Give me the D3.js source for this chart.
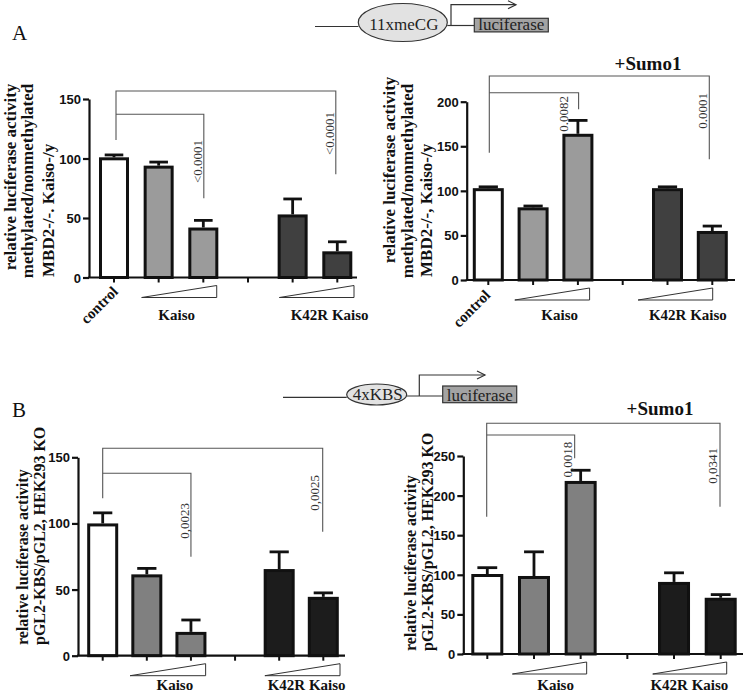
<!DOCTYPE html>
<html><head><meta charset="utf-8">
<script src="https://cdn.jsdelivr.net/npm/d3@7"></script>
<style>body{margin:0;background:#fff} svg{display:block}</style>
</head><body>
<svg id="chart" width="745" height="691"></svg>
<script>
// ---------- data ----------
const categories = ["control","Kaiso low","Kaiso high","gap","K42R Kaiso low","K42R Kaiso high"];
const groupLabels = ["Kaiso","K42R Kaiso"];
const controlLabel = "control";
const sumoLabel = "+Sumo1";

// Panel A, left (11xmeCG)
const aLeftValues = [101, 94, 42, null, 53, 22];
const aLeftErrors = [2, 3, 6, null, 13, 8];
const aLeftTicks = [0, 50, 100, 150];
const aLeftP = ["<0.0001", "<0.0001"];
const aLeftTitle = ["relative luciferase activity", "methylated/nonmethylated", "MBD2-/-. Kaiso-/y"];

// Panel A, right (+Sumo1)
const aRightValues = [103, 81.5, 164, null, 103, 55];
const aRightErrors = [1.5, 1.5, 15, null, 1.5, 5.5];
const aRightTicks = [0, 50, 100, 150, 200];
const aRightP = ["0.0082", "0.0001"];
const aRightTitle = ["relative luciferase activity", "methylated/nonmethylated", "MBD2-/-, Kaiso-/y"];

// Panel B, left (4xKBS)
const bLeftValues = [100, 61.5, 18, null, 65.5, 44.5];
const bLeftErrors = [8, 4.5, 9, null, 13, 3];
const bLeftTicks = [0, 50, 100, 150];
const bLeftP = ["0,0023", "0,0025"];
const bTitle = ["relative luciferase activity", "pGL2-KBS/pGL2, HEK293 KO"];

// Panel B, right (+Sumo1)
const bRightValues = [101, 98.5, 218.5, null, 91, 71];
const bRightErrors = [8, 30.5, 13.5, null, 11.5, 4];
const bRightTicks = [0, 50, 100, 150, 200, 250];
const bRightP = ["0,0018", "0,0341"];

// ---------- layout ----------
const SERIF = "'Liberation Serif','Times New Roman',serif";
const SANS = "'Liberation Sans',Arial,sans-serif";

const panels = [
  { values: aLeftValues, errors: aLeftErrors, ticks: aLeftTicks, p: aLeftP, title: aLeftTitle,
    axisX: 89, y0: 277.5, yTop: 99, c0: 114, c5: 337.3, barW: 30, xEnd: 357,
    colors: ["#ffffff", "#9b9b9b", "#404040"], control: true, ctrlDx: 5, ctrlDy: 15,
    br: { outerY: 91, innerY: 114.3, leftDx: 2, leftBottom: 140, innerBottom: 198.3, outerBottom: 174.3, innerDx: 0.5, outerDx: -1.5 },
    pPos: [{ dx: -2, y: 140 }, { dx: -2, y: 112 }],
    tri: [[-17, 13.4], [-13.3, 16.7]], labDx: [-4.3, 14.7], labY: 320,
    titleFont: 17,
    titleLines: [{ x: 16, y: 177, anchor: "middle" }, { x: 33, y: 181, anchor: "middle" }, { x: 54, y: 277, anchor: "start" }] },
  { values: aRightValues, errors: aRightErrors, ticks: aRightTicks, p: aRightP, title: aRightTitle,
    axisX: 466.7, y0: 280, yTop: 101.7, c0: 488.3, c5: 712.3, barW: 31, xEnd: 735,
    colors: ["#ffffff", "#9b9b9b", "#404040"], control: true, ctrlDx: 3, ctrlDy: 16,
    br: { outerY: 76, innerY: 92.7, leftDx: 1, leftBottom: 152.7, innerBottom: 109.3, outerBottom: 159.3, innerDx: 0.7, outerDx: -3 },
    pPos: [{ dx: -11, y: 96 }, { dx: -2.5, y: 93 }],
    tri: [[-18.3, 11.7], [-29.4, 0.4]], labDx: [4.2, -2], labY: 320,
    titleFont: 17,
    titleLines: [{ x: 395, y: 170, anchor: "middle" }, { x: 413, y: 181, anchor: "middle" }, { x: 432, y: 277, anchor: "start" }] },
  { values: bLeftValues, errors: bLeftErrors, ticks: bLeftTicks, p: bLeftP, title: bTitle,
    axisX: 78, y0: 655.7, yTop: 457.3, c0: 102.7, c5: 323.3, barW: 31, xEnd: 345,
    colors: ["#ffffff", "#808080", "#1c1c1c"], control: false,
    br: { outerY: 448.3, innerY: 473.3, leftDx: 0, leftBottom: 498.3, innerBottom: 556.7, outerBottom: 531.7, innerDx: 0, outerDx: -0.6 },
    pPos: [{ dx: -2, y: 503 }, { dx: -4, y: 475 }],
    tri: [[-16.7, 14.7], [-14.3, 16.7]], labDx: [6, 5.4], labY: 689.5,
    titleFont: 16,
    titleLines: [{ x: 28, y: 645, anchor: "start" }, { x: 45, y: 645, anchor: "start" }] },
  { values: bRightValues, errors: bRightErrors, ticks: bRightTicks, p: bRightP, title: bTitle,
    axisX: 463.3, y0: 654, yTop: 456, c0: 487.3, c5: 720.7, barW: 32, xEnd: 743,
    colors: ["#ffffff", "#808080", "#1c1c1c"], control: false,
    br: { outerY: 423.3, innerY: 435, leftDx: -0.6, leftBottom: 516.7, innerBottom: 458.3, outerBottom: 506.7, innerDx: -6, outerDx: -0.7 },
    pPos: [{ dx: -3, y: 441.7 }, { dx: -3, y: 448 }],
    tri: [[-21.6, 6], [-21.3, 6]], labDx: [-1.7, -8], labY: 689.5,
    titleFont: 16,
    titleLines: [{ x: 416, y: 651, anchor: "start" }, { x: 433, y: 651, anchor: "start" }] }
];

const svg = d3.select("#chart");

function drawPanel(cfg) {
  const g = svg.append("g");
  const step = (cfg.c5 - cfg.c0) / (categories.length - 1);
  const pad = 1 - cfg.barW / step;
  const x = d3.scaleBand().domain(categories)
    .range([cfg.c0 - step / 2, cfg.c5 + step / 2])
    .paddingInner(pad).paddingOuter(pad / 2);
  const y = d3.scaleLinear().domain([0, d3.max(cfg.ticks)]).range([cfg.y0, cfg.yTop]);
  const cx = c => x(c) + x.bandwidth() / 2;
  const fillFor = i => i === 0 ? cfg.colors[0] : (i < 3 ? cfg.colors[1] : cfg.colors[2]);

  const rows = categories.map((c, i) => ({ c, i, v: cfg.values[i], e: cfg.errors[i] })).filter(d => d.v != null);

  // error bars
  const eb = g.append("g").attr("stroke", "#111").attr("stroke-width", 2.8).attr("fill", "none");
  rows.forEach(d => {
    eb.append("line").attr("x1", cx(d.c)).attr("x2", cx(d.c)).attr("y1", y(d.v)).attr("y2", y(d.v + d.e));
    const cw = cfg.barW * 0.62;
    eb.append("line").attr("x1", cx(d.c) - cw / 2).attr("x2", cx(d.c) + cw / 2)
      .attr("y1", y(d.v + d.e)).attr("y2", y(d.v + d.e));
  });

  // bars
  g.append("g").selectAll("rect").data(rows).join("rect")
    .attr("x", d => x(d.c) + 1.5)
    .attr("width", x.bandwidth() - 3)
    .attr("y", d => y(d.v) + 1.5)
    .attr("height", d => Math.max(0, y(0) - y(d.v) - 1.5))
    .attr("fill", d => fillFor(d.i))
    .attr("stroke", "#111").attr("stroke-width", 3);

  // y axis
  const ya = g.append("g").attr("transform", `translate(${cfg.axisX},0)`)
    .call(d3.axisLeft(y).tickValues(cfg.ticks).tickSize(6).tickSizeOuter(0).tickFormat(d3.format("d")));
  ya.select(".domain").attr("stroke", "#111").attr("stroke-width", 2.2);
  ya.selectAll(".tick line").attr("stroke", "#111").attr("stroke-width", 2.2);
  ya.selectAll(".tick text").attr("font-family", SANS).attr("font-weight", "bold")
    .attr("font-size", 13).attr("fill", "#111").attr("x", -8).attr("dy", "0.35em");

  // x axis
  const xa = g.append("g").attr("transform", `translate(0,${cfg.y0})`)
    .call(d3.axisBottom(x).tickSize(5).tickSizeOuter(0).tickFormat(""));
  xa.select(".domain").remove();
  xa.selectAll(".tick line").attr("stroke", "#111").attr("stroke-width", 2);
  g.append("line").attr("x1", cfg.axisX - 1).attr("x2", cfg.xEnd)
    .attr("y1", cfg.y0).attr("y2", cfg.y0).attr("stroke", "#111").attr("stroke-width", 2.2);

  // dose triangles + group labels
  const pairs = [[categories[1], categories[2]], [categories[4], categories[5]]];
  pairs.forEach((pr, k) => {
    const xl = cx(pr[0]) + cfg.tri[k][0], xr = cx(pr[1]) + cfg.tri[k][1];
    const yt = cfg.y0 + 8, yb = cfg.y0 + 20;
    g.append("path").attr("d", `M${xl},${yb}L${xr},${yb}L${xr},${yt}Z`)
      .attr("fill", "none").attr("stroke", "#333").attr("stroke-width", 1);
    g.append("text").attr("x", (cx(pr[0]) + cx(pr[1])) / 2 + cfg.labDx[k]).attr("y", cfg.labY)
      .attr("text-anchor", "middle").attr("font-family", SERIF).attr("font-weight", "bold")
      .attr("font-size", 15).attr("fill", "#111").text(groupLabels[k]);
  });

  if (cfg.control) {
    g.append("text")
      .attr("transform", `translate(${cx(categories[0]) + cfg.ctrlDx},${cfg.y0 + cfg.ctrlDy}) rotate(-45)`)
      .attr("text-anchor", "end").attr("font-family", SERIF).attr("font-weight", "bold")
      .attr("font-size", 15).attr("fill", "#111").text(controlLabel);
  }

  // significance brackets
  const b = cfg.br;
  const lx = cx(categories[0]) + b.leftDx;
  const ix = cx(categories[2]) + b.innerDx;
  const ox = cx(categories[5]) + b.outerDx;
  const bg = g.append("g").attr("fill", "none").attr("stroke", "#555").attr("stroke-width", 1.1);
  bg.append("path").attr("d", `M${lx},${b.leftBottom}V${b.outerY}H${ox}V${b.outerBottom}`);
  bg.append("path").attr("d", `M${lx},${b.innerY}H${ix}V${b.innerBottom}`);
  [[ix, cfg.pPos[0], cfg.p[0]], [ox, cfg.pPos[1], cfg.p[1]]].forEach(([lxp, pp, txt]) => {
    g.append("text").attr("transform", `translate(${lxp + pp.dx},${pp.y}) rotate(-90)`)
      .attr("text-anchor", "end").attr("font-family", SERIF).attr("font-size", 13)
      .attr("fill", "#333").text(txt);
  });

  // y title
  cfg.title.forEach((t, k) => {
    const tl = cfg.titleLines[k];
    g.append("text").attr("transform", `translate(${tl.x},${tl.y}) rotate(-90)`)
      .attr("text-anchor", tl.anchor).attr("font-family", SERIF).attr("font-weight", "bold")
      .attr("font-size", cfg.titleFont).attr("fill", "#111").text(t);
  });
}

panels.forEach(drawPanel);

// panel letters and +Sumo1
svg.append("text").attr("x", 12).attr("y", 40).attr("font-family", SERIF).attr("font-size", 21).attr("fill", "#111").text("A");
svg.append("text").attr("x", 12).attr("y", 417).attr("font-family", SERIF).attr("font-size", 21).attr("fill", "#111").text("B");
svg.append("text").attr("x", 648).attr("y", 70).attr("text-anchor", "middle").attr("font-family", SERIF)
  .attr("font-weight", "bold").attr("font-size", 19).attr("fill", "#111").text(sumoLabel);
svg.append("text").attr("x", 660).attr("y", 415).attr("text-anchor", "middle").attr("font-family", SERIF)
  .attr("font-weight", "bold").attr("font-size", 19).attr("fill", "#111").text(sumoLabel);

// promoter construct diagrams
function construct(d) {
  const g = svg.append("g").attr("fill", "none").attr("stroke", "#333").attr("stroke-width", 1.2);
  g.append("line").attr("x1", d.lineX0).attr("x2", d.cx - d.rx).attr("y1", d.lineY).attr("y2", d.lineY);
  g.append("line").attr("x1", d.cx + d.rx).attr("x2", d.boxX).attr("y1", d.lineY2).attr("y2", d.lineY2);
  g.append("ellipse").attr("cx", d.cx).attr("cy", d.cy).attr("rx", d.rx).attr("ry", d.ry).attr("fill", "#e2e2e2");
  g.append("path").attr("d", `M${d.arrX},${d.lineY2}V${d.arrY}H${d.arrTip}`);
  g.append("path").attr("d", `M${d.arrTip - 8},${d.arrY - 4}L${d.arrTip},${d.arrY}L${d.arrTip - 8},${d.arrY + 4}`);
  g.append("rect").attr("x", d.boxX).attr("y", d.boxY).attr("width", d.boxW).attr("height", d.boxH).attr("fill", "#a3a3a3");
  svg.append("text").attr("x", d.cx + 1).attr("y", d.textY).attr("text-anchor", "middle")
    .attr("font-family", SERIF).attr("font-size", d.fs).attr("fill", "#222").text(d.label);
  svg.append("text").attr("x", d.boxX + d.boxW / 2).attr("y", d.boxTextY).attr("text-anchor", "middle")
    .attr("font-family", SERIF).attr("font-size", d.boxFs).attr("fill", "#222").text("luciferase");
}
construct({ label: "11xmeCG", lineX0: 315, lineY: 26.5, lineY2: 25.5, cx: 402.8, cy: 22.5, rx: 44.5, ry: 19,
  fs: 17, textY: 29.5, arrX: 451, arrY: 4.7, arrTip: 516, boxX: 474.3, boxY: 18.3, boxW: 74, boxH: 13.6,
  boxTextY: 30, boxFs: 17 });
construct({ label: "4xKBS", lineX0: 283, lineY: 397.3, lineY2: 396, cx: 376.7, cy: 394.5, rx: 30, ry: 10.5,
  fs: 17, textY: 400, arrX: 419.3, arrY: 375, arrTip: 485, boxX: 442.7, boxY: 386, boxW: 74, boxH: 16.7,
  boxTextY: 400.5, boxFs: 17 });
</script>
</body></html>
